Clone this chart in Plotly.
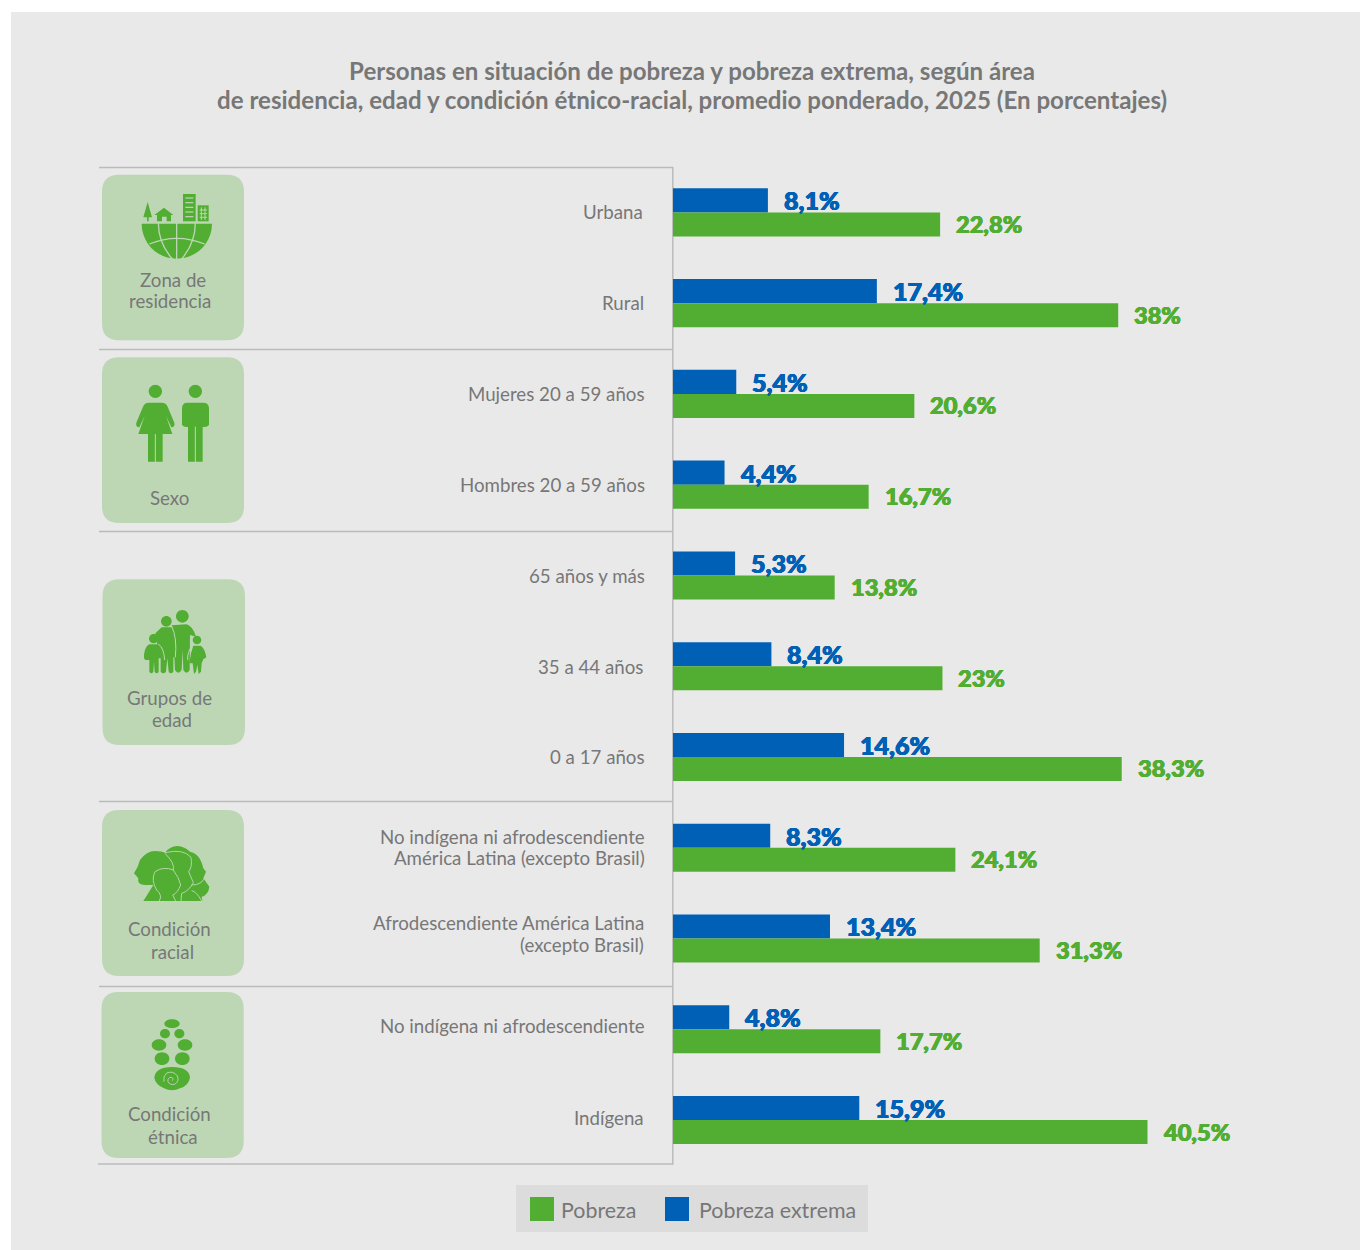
import re
import plotly.graph_objects as go

categories = ["Urbana", "Rural", "Mujeres 20 a 59 años", "Hombres 20 a 59 años",
              "65 años y más", "35 a 44 años", "0 a 17 años",
              "No indígena ni afrodescendiente<br>América Latina (excepto Brasil)",
              "Afrodescendiente América Latina<br>(excepto Brasil)",
              "No indígena ni afrodescendiente", "Indígena"]
pobreza_extrema = [8.1, 17.4, 5.4, 4.4, 5.3, 8.4, 14.6, 8.3, 13.4, 4.8, 15.9]
pobreza = [22.8, 38, 20.6, 16.7, 13.8, 23, 38.3, 24.1, 31.3, 17.7, 40.5]
title_lines = ["Personas en situación de pobreza y pobreza extrema, según área",
               "de residencia, edad y condición étnico-racial, promedio ponderado, 2025 (En porcentajes)"]
legend_names = ["Pobreza", "Pobreza extrema"]

BLUE = "#0060b6"
GREEN = "#52ae32"
BG = "#e9e9e9"
PANEL = "#bdd7b5"
TXT = "#777777"
RULE = "#bbbbbb"
FONT = "Lato"

W, H = 1360, 1250
X0 = 673
PX_PER_UNIT = 11.716
PLOT_TOP, PLOT_BOTTOM = 167, 1165.4


def fx(v):
    return v / W


def fy(v):
    return (H - v) / H


def P(d, ox=0, oy=0, s=1):
    res, is_x = "", True
    for t in re.findall(r"[MLQCZ]|-?\d+\.?\d*", d):
        if t in "MLQCZ":
            res += t
            is_x = True
        else:
            v = float(t)
            res += (f"{fx(ox + v / s):.6f} " if is_x else f"{fy(oy + v / s):.6f} ")
            is_x = not is_x
    return res


def ell(cx, cy, rx, ry=None):
    ry = rx if ry is None else ry
    k = 0.5523
    return (f"M{cx - rx},{cy} C{cx - rx},{cy - k * ry} {cx - k * rx},{cy - ry} {cx},{cy - ry} "
            f"C{cx + k * rx},{cy - ry} {cx + rx},{cy - k * ry} {cx + rx},{cy} "
            f"C{cx + rx},{cy + k * ry} {cx + k * rx},{cy + ry} {cx},{cy + ry} "
            f"C{cx - k * rx},{cy + ry} {cx - rx},{cy + k * ry} {cx - rx},{cy} Z")


def rrect(x0, y0, x1, y1, r):
    return (f"M{x0 + r},{y0} L{x1 - r},{y0} Q{x1},{y0} {x1},{y0 + r} L{x1},{y1 - r} Q{x1},{y1} {x1 - r},{y1} "
            f"L{x0 + r},{y1} Q{x0},{y1} {x0},{y1 - r} L{x0},{y0 + r} Q{x0},{y0} {x0 + r},{y0} Z")


shapes = []


def fill(d, color=GREEN, ox=0, oy=0, s=1):
    shapes.append(dict(type="path", xref="paper", yref="paper", layer="below", path=P(d, ox, oy, s),
                       fillcolor=color, line=dict(width=0)))


def stroke(d, color=PANEL, width=1.0, ox=0, oy=0, s=1):
    shapes.append(dict(type="path", xref="paper", yref="paper", layer="below", path=P(d, ox, oy, s),
                       fillcolor="rgba(0,0,0,0)", line=dict(color=color, width=width)))


def rect(x0, y0, x1, y1, color):
    shapes.append(dict(type="rect", xref="paper", yref="paper", layer="below",
                       x0=fx(x0), x1=fx(x1), y0=fy(y1), y1=fy(y0), fillcolor=color, line=dict(width=0)))


def rule(x0, y0, x1, y1):
    shapes.append(dict(type="line", xref="paper", yref="paper", layer="below",
                       x0=fx(x0), x1=fx(x1), y0=fy(y0), y1=fy(y1), line=dict(color=RULE, width=1.5)))


# backdrop
rect(11, 12, 1360, 1250, BG)
# rules
for y, x0 in [(167.5, 99), (349.5, 99), (531.5, 99), (801.5, 99), (986.5, 99), (1164, 98)]:
    rule(x0, y, 673, y)
rule(672.8, 167, 672.8, 1164.7)
# panels
for x0, y0, x1, y1 in [(102, 174.7, 244, 340.3), (102, 357.3, 244, 523), (102.5, 579.3, 245, 745),
                       (102, 810, 244, 976), (101.5, 992, 243.7, 1158)]:
    fill(rrect(x0, y0, x1, y1, 17), PANEL)
# legend box
rect(516, 1185, 868, 1232, "#dcdcdc")
rect(530, 1197, 554, 1221, GREEN)
rect(665, 1197, 689, 1221, BLUE)

# ---- icon 1: globe, tree, house, buildings
o1 = dict(ox=90, oy=160, s=3)
fill("M155,191 L366,191 C366,250 318,296 260,296 C202,296 155,250 155,191 Z", **o1)
for d in ["M260,188 L260,298", "M205,188 Q205,250 248,298", "M316,188 Q316,250 274,298",
          "M178,252 Q260,218 344,252"]:
    stroke(d, width=1.3, **o1)
fill("M173,126 L186,172 L176,172 L176,184 L171,184 L171,172 L160,172 Z", **o1)
fill("M222,143 L250,165 L243,165 L243,184 L230,184 L230,170 L216,170 L216,184 L201,184 L201,165 L193,165 Z", **o1)
fill("M279,102 L317,102 L317,184 L279,184 Z", **o1)
for y in [114, 128, 142, 156, 170]:
    stroke(f"M286,{y} L310,{y}", width=1.2, **o1)
fill("M323,136 L356,136 L356,184 L323,184 Z", **o1)
for y in [150, 161, 172]:
    stroke(f"M329,{y} L351,{y}", width=1.0, **o1)
for x in [334, 345]:
    stroke(f"M{x},142 L{x},180", width=1.0, **o1)

# ---- icon 2: woman and man
fill(ell(196, 694, 20), **o1)
fill("M176,728 L216,728 Q228,728 233,740 L253,788 Q256,800 244,802 L228,768 L247,822 L218,822 L218,905 "
     "L174,905 L174,822 L145,822 L164,768 L148,802 Q136,800 139,788 L159,740 Q164,728 176,728 Z", **o1)
stroke("M196,822 L196,906", width=1.0, **o1)
fill(ell(316, 694, 20), **o1)
fill("M292,728 L340,728 Q357,728 357,745 L357,795 Q350,803 338,800 L338,905 L294,905 L294,800 "
     "Q283,803 276,795 L276,745 Q276,728 292,728 Z", **o1)
stroke("M316,800 L316,906", width=1.0, **o1)

# ---- icon 3: family
o2 = dict(ox=90, oy=570, s=3)
fill(ell(277, 139, 19), **o2)
fill("M245,166 L290,163 Q308,168 318,200 L300,195 L299,300 Q290,316 280,300 L278,240 L275,300 Q265,316 255,300 L250,200 Z", **o2)
fill(ell(229, 154, 16), **o2)
fill("M215,172 L245,172 Q258,195 256,262 L250,262 L250,305 Q242,315 236,305 L232,265 L228,305 Q220,315 212,305 "
     "L212,262 L205,240 L196,190 Z", **o2)
stroke("M245,168 Q262,205 256,262", width=1.0, **o2)
fill(ell(191, 206, 14), **o2)
fill("M178,223 L205,223 Q218,228 222,265 L206,265 L206,305 Q200,315 194,305 L192,275 L190,305 Q184,315 178,305 "
     "L178,270 L166,270 Q158,265 165,240 Q170,226 178,223 Z", **o2)
stroke("M205,222 Q222,235 224,270", width=1.0, **o2)
fill(ell(321, 210, 13), **o2)
fill("M310,227 L332,227 Q345,235 349,262 L340,268 L335,280 L333,305 L326,312 L322,285 L318,305 L312,312 L308,280 "
     "L298,280 L303,250 Z", **o2)
stroke("M306,228 Q292,245 293,270", width=1.0, **o2)

# ---- icon 4: profiles
fill("M160,993 L190,945 L165,945 Q140,945 145,925 L132,910 Q145,890 150,870 Q170,843 195,843 Q215,843 225,848 "
     "Q240,828 262,828 Q285,830 300,845 Q330,850 340,895 L348,905 L340,925 L358,950 Q355,975 335,980 L337,993 Z", **o2)
for d in ["M208,993 Q218,975 200,960 Q182,930 195,905 Q220,888 250,900 Q268,925 272,945 Q262,970 248,975 L257,993",
          "M225,848 Q280,835 303,862 Q308,890 296,905 L310,938 Q295,965 275,970 L273,993",
          "M225,850 Q255,880 250,900",
          "M305,945 Q335,945 345,922", "M305,962 Q320,965 335,993"]:
    stroke(d, width=0.9, **o2)

# ---- icon 5: footprint
o3 = dict(ox=90, oy=985, s=3)
for cx, cy, rx, ry in [(246, 116, 23, 13), (225, 146, 15, 14), (268, 146, 15, 14), (207, 180, 22, 17),
                       (285, 180, 22, 17), (216, 221, 22, 19), (277, 221, 22, 19)]:
    fill(ell(cx, cy, rx, ry), **o3)
fill("M193,278 Q196,246 246,246 Q298,246 300,278 Q296,302 270,310 Q246,322 222,310 Q196,298 193,278 Z", **o3)
stroke("M247,287 Q252,278 243,277 Q232,278 234,290 Q240,302 256,297 Q268,288 262,273 Q250,256 230,264 "
       "Q218,274 222,290", width=0.9, **o3)

# texts
annotations = []


def label(text, x, y, size=18.7, anchor="center", weight=None):
    font = dict(family=FONT, size=size, color=TXT)
    if weight:
        font["weight"] = weight
    annotations.append(dict(text=text, x=fx(x), y=fy(y - 1), xref="paper", yref="paper", xanchor=anchor,
                            yanchor="middle", showarrow=False, font=font))


for t, x, y in [("Zona de", 172.5, 281), ("residencia", 170, 302.5), ("Sexo", 169.5, 499),
                ("Grupos de", 169.5, 698.5), ("edad", 172, 720.5), ("Condición", 169.5, 929.5),
                ("racial", 172, 952.5), ("Condición", 169.5, 1114.5), ("étnica", 172.5, 1137.5)]:
    label(t, x, y)
label(legend_names[0], 559, 1211, 21.4, "left")
label(legend_names[1], 697, 1211, 21.4, "left")
label(title_lines[1], 692, 101, 24.1, "center", 700)

# category labels, one annotation per printed line, tied to the category axis
label_right = [643.5, 644.5, 645.5, 645.5, 645.5, 643.5, 645.5, 646, 644.5, 646, 644.5]
label_rows = [[212.5], [303], [394], [485.5], [575.5], [666.5], [757.5], [836.5, 857.5], [923.5, 945.5], [1026.5], [1118]]
row_h = (PLOT_BOTTOM - PLOT_TOP) / len(categories)
for i, cat in enumerate(categories):
    yc = PLOT_TOP + row_h * (i + 0.5)
    for line, target in zip(cat.split("<br>"), label_rows[i]):
        annotations.append(dict(text=line, x=0, y=cat, xref="x", yref="y", xanchor="right", yanchor="middle",
                                xshift=label_right[i] - X0 + 1, yshift=yc - target, showarrow=False,
                                font=dict(family=FONT, size=18.7, color=TXT)))


def thick(color):
    return f"0.5px 0 0 {color}, -0.5px 0 0 {color}, 0 0.3px 0 {color}, 0 -0.3px 0 {color}"


# value labels tied to the data axes
for cat, a, b in zip(categories, pobreza_extrema, pobreza):
    for v, col, dy, size in [(a, BLUE, 12, 25), (b, GREEN, -11.5, 23.6)]:
        annotations.append(dict(text=f"{v:g}".replace(".", ",") + "%", x=v, y=cat, xref="x", yref="y",
                                xanchor="left", yanchor="middle", xshift=14, yshift=dy, showarrow=False,
                                font=dict(family=FONT, size=size, color=col, weight=900, shadow=thick(col))))

fig = go.Figure()
fig.add_trace(go.Bar(name=legend_names[1], y=categories, x=pobreza_extrema, orientation="h",
                     marker=dict(color=BLUE, line=dict(width=0))))
fig.add_trace(go.Bar(name=legend_names[0], y=categories, x=pobreza, orientation="h",
                     marker=dict(color=GREEN, line=dict(width=0))))

fig.update_layout(
    width=W, height=H, margin=dict(l=0, r=0, t=0, b=0),
    paper_bgcolor="white", plot_bgcolor="rgba(0,0,0,0)",
    barmode="group", bargap=0.47, bargroupgap=0, showlegend=False,
    font=dict(family=FONT, color=TXT),
    title=dict(text=title_lines[0], x=fx(692), xref="paper", xanchor="center", y=fy(72), yref="paper",
               yanchor="middle", font=dict(family=FONT, size=24.1, color=TXT, weight=700)),
    shapes=shapes, annotations=annotations,
    xaxis=dict(domain=[fx(X0), 1], range=[0, (W - X0) / PX_PER_UNIT], visible=False),
    yaxis=dict(domain=[fy(PLOT_BOTTOM), fy(PLOT_TOP)], type="category", categoryorder="array",
               categoryarray=categories, range=[10.5, -0.5], showgrid=False, zeroline=False,
               showline=False, ticks="", showticklabels=False),
)
fig.write_html("out.html", config={"displayModeBar": False}, post_script="document.body.style.margin='0';")
